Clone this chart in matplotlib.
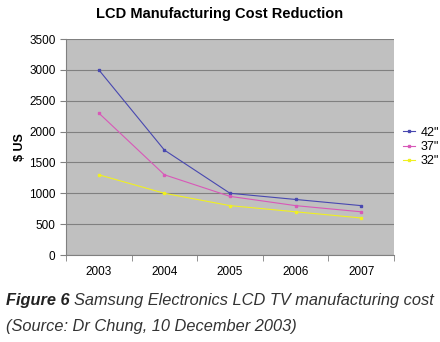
import matplotlib.pyplot as plt

# Projected LCD TV manufacturing cost by panel size
years = ['2003', '2004', '2005', '2006', '2007']
cost_42 = [3000, 1700, 1000, 900, 800]
cost_37 = [2300, 1300, 950, 800, 700]
cost_32 = [1300, 1000, 800, 700, 600]
sizes = ['42"', '37"', '32"']
colors = ['#4848b0', '#d858b8', '#f0f020']

plt.rcParams['font.family'] = ['Liberation Sans', 'DejaVu Sans']

fig = plt.figure(figsize=(4.4, 3.42), dpi=100)
ax = fig.add_axes([66 / 440, 1 - 255 / 342, 328 / 440, 216 / 342])
ax.set_facecolor('#c0c0c0')

x = range(len(years))
for vals, name, c in zip([cost_42, cost_37, cost_32], sizes, colors):
    ax.plot(x, vals, color=c, lw=0.8, marker='s', ms=2, mec=c, mfc=c, label=name)

ax.set_xlim(-0.5, len(years) - 0.5)
ax.set_ylim(0, 3500)
ax.set_yticks(range(0, 3501, 500))
ax.set_xticks(x)
ax.set_xticklabels(years)
ax.set_xticks([i - 0.5 for i in range(len(years) + 1)], minor=True)
ax.tick_params(axis='x', which='major', length=0, labelsize=8.5, pad=8)
ax.tick_params(axis='x', which='minor', length=4, color='#808080')
ax.tick_params(axis='y', length=4, color='#808080', labelsize=8.5)
ax.grid(axis='y', color='#808080', lw=0.8)
ax.set_axisbelow(True)
for side in ['top', 'right']:
    ax.spines[side].set_visible(False)
for side in ['left', 'bottom']:
    ax.spines[side].set_color('#808080')
ax.set_ylabel('$ US', fontsize=9, fontweight='bold', labelpad=2)

ax.legend(loc='center left', bbox_to_anchor=(1.0, 0.5), frameon=False,
          fontsize=9, handlelength=1.0, handletextpad=0.4, labelspacing=0.2,
          borderaxespad=0.3)

fig.text(0.5, 1 - 14 / 342, 'LCD Manufacturing Cost Reduction',
         ha='center', va='center', fontsize=10.5, fontweight='bold')

# caption: bold-ish figure number followed by the description
fig_num = fig.text(6 / 440, 1 - 301 / 342, 'Figure 6', fontsize=11.8, style='italic',
                   fontweight='bold', va='center', color='#222222')
renderer = fig.canvas.get_renderer()
bb = fig_num.get_window_extent(renderer)
fig.text((bb.x1 + 4) / 440, 1 - 301 / 342,
         'Samsung Electronics LCD TV manufacturing cost',
         fontsize=11.8, style='italic', va='center', color='#333333')
fig.text(6 / 440, 1 - 326 / 342, '(Source: Dr Chung, 10 December 2003)',
         fontsize=11.8, style='italic', va='center', color='#333333')

fig.savefig('out.png', dpi=100)
